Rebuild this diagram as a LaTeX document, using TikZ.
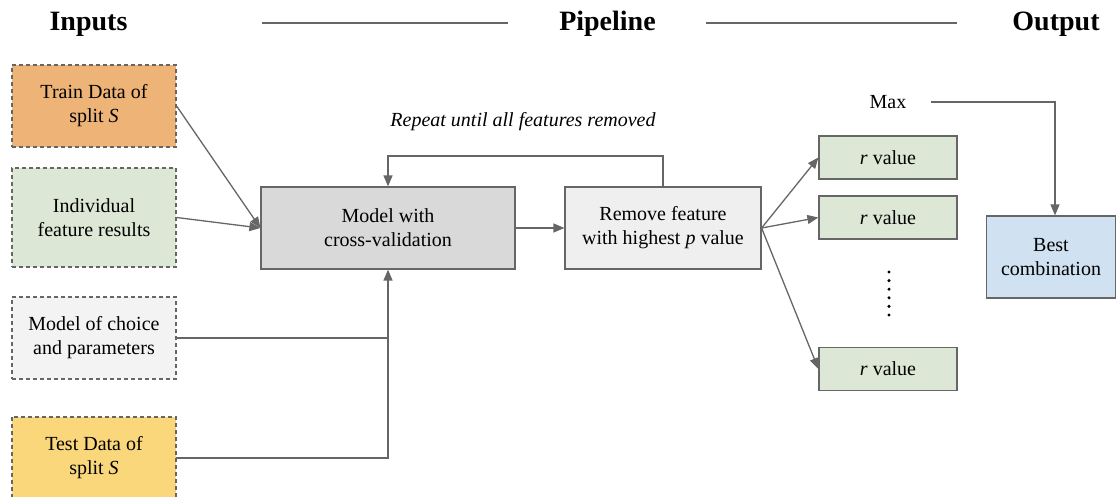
\documentclass[tikz,border=0pt]{standalone}
\usepackage{fontspec}
\setmainfont{LiberationSerif}[Extension=.ttf, UprightFont=*-Regular, BoldFont=*-Bold, ItalicFont=*-Italic, BoldItalicFont=*-BoldItalic]
\usetikzlibrary{arrows.meta}
\definecolor{cline}{HTML}{666666}
\definecolor{corange}{HTML}{EEB376}
\definecolor{cgreen}{HTML}{DCE8D5}
\definecolor{cgrayl}{HTML}{F3F3F3}
\definecolor{cyellow}{HTML}{F9D77A}
\definecolor{cgraym}{HTML}{D9D9D9}
\definecolor{cgrayr}{HTML}{EFEFEF}
\definecolor{cblue}{HTML}{D0E1F2}
\tikzset{
  dashb/.style={draw=cline, line width=1.2pt, dash pattern=on 4pt off 3pt},
  inbox/.style={dashb, minimum width=164pt, align=center, inner sep=0pt, font=\fontsize{20}{24}\selectfont},
  intext/.style={minimum width=164pt, align=center, inner sep=0pt, font=\fontsize{20}{24}\selectfont},
  pbox/.style={draw=cline, line width=1.2pt, align=center, inner sep=0pt, font=\fontsize{20}{24}\selectfont},
  conn/.style={draw=cline, line width=1.3pt},
  arr/.style={conn, -{Triangle[length=11pt,width=9pt]}},
  head/.style={font=\fontsize{28}{32}\selectfont\bfseries, inner sep=0pt},
}
\begin{document}
\begin{tikzpicture}[x=1pt,y=-1pt]
\useasboundingbox (0,0) rectangle (1116,497);
% headers
\node[head] (hin) at (88.5,24) {Inputs};
\node[head] (hpipe) at (607.5,24) {Pipeline};
\node[head] (hout) at (1056,24) {Output};
\draw[conn] (262,23) -- (508,23);
\draw[conn] (706,23) -- (957,23);
% inputs
\node[inbox, fill=corange, minimum height=82pt] (train) at (94,106) {Train Data of\\split \textit{S}};
\node[inbox, fill=cgreen, minimum height=99pt] (indiv) at (94,217.5) {Individual\\feature results};
\node[inbox, fill=cgrayl, minimum height=82pt] (choice) at (94,338) {Model of choice\\and parameters};
\path[dashb, fill=cyellow] (12,417) rectangle (176,515);
\node[intext, minimum height=82pt] (test) at (94,458) {Test Data of\\split \textit{S}};
% pipeline
\node[pbox, fill=cgraym, minimum width=254pt, minimum height=82pt] (model) at (388,228) {Model with\\cross-validation};
\node[pbox, fill=cgrayr, minimum width=196pt, minimum height=82pt] (remove) at (663,228) {Remove feature\\with highest \textit{p} value};
\node[font=\fontsize{20}{24}\selectfont\itshape, inner sep=0pt] (repeat) at (523,122) {Repeat until all features removed};
% r values
\node[pbox, fill=cgreen, minimum width=138pt, minimum height=43pt] (r1) at (888,157.5) {\textit{r} value};
\node[pbox, fill=cgreen, minimum width=138pt, minimum height=43pt] (r2) at (888,217.5) {\textit{r} value};
\node[pbox, fill=cgreen, minimum width=138pt, minimum height=43pt] (r3) at (888,369) {\textit{r} value};
\foreach \yy in {272,280.6,289.2,297.8,306.4,315} {\fill (889,\yy) circle (1.7pt);}
% output
\node[font=\fontsize{20}{24}\selectfont, inner sep=0pt] (max) at (888,102) {Max};
\node[pbox, fill=cblue, minimum width=129pt, minimum height=82pt] (best) at (1051,257) {Best\\combination};
\coordinate (maxr) at (931,102);
\coordinate (maxc) at (1055,102);
% connectors
\draw[arr] (train.east) -- (model.west);
\draw[arr] (indiv.east) -- (model.west);
\draw[conn] (choice.east) -- (choice.east -| model.south);
\draw[arr] (test.east) -| (model.south);
\draw[arr] (model.east) -- (remove.west);
\draw[arr] (remove.north) |- (388,156) -- (model.north);
\draw[arr] (remove.east) -- (r1.west);
\draw[arr] (remove.east) -- (r2.west);
\draw[arr] (remove.east) -- (r3.west);
\draw[arr] (maxr) -- (maxc) -- (maxc |- best.north);
\end{tikzpicture}
\end{document}
